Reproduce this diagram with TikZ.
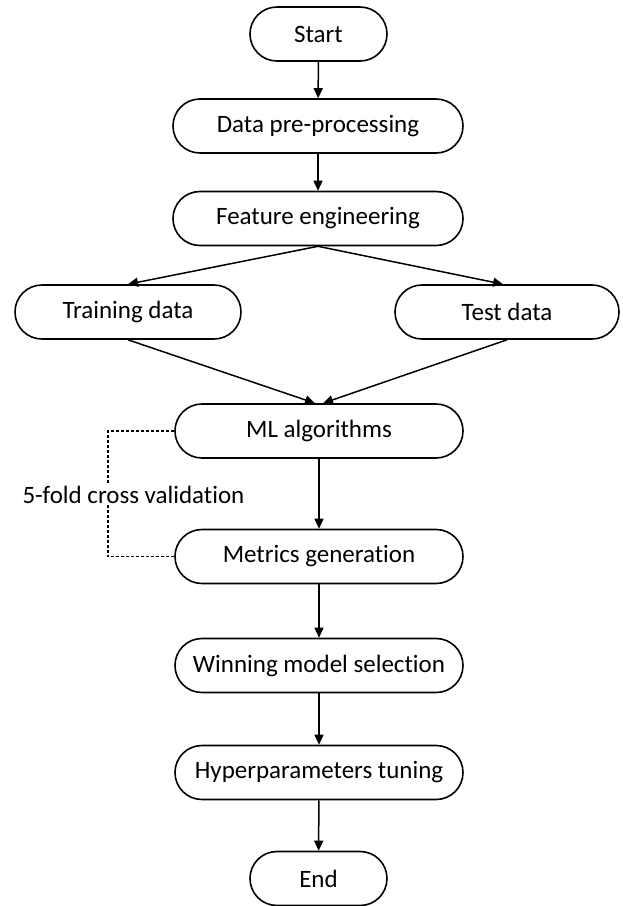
\documentclass[tikz,border=0pt]{standalone}
\usepackage{fontspec}
\setmainfont[Ligatures=NoCommon]{Carlito}
\usetikzlibrary{arrows.meta}
\begin{document}
\begin{tikzpicture}[x=1pt,y=-1pt,
  term/.style={draw, line width=1.6pt, rounded corners=26.9pt, minimum height=54pt, inner sep=0pt, font=\fontsize{25}{30}\selectfont},
  arr/.style={line width=1.5pt, -{Triangle[length=10pt,width=9pt]}},
  dots/.style={line width=1.6pt, dash pattern=on 3pt off 2pt},
  lbl/.style={fill=white, inner sep=1pt, font=\fontsize{25}{30}\selectfont}]
\useasboundingbox (0,0) rectangle (622,906);
\node[term, minimum width=137pt] (start) at (318.5,34) {Start};
\node[term, minimum width=290pt] (pre) at (318,126) {Data pre-processing};
\node[term, minimum width=290pt] (feat) at (318,218.5) {Feature engineering};
\node[term, minimum width=226pt] (train) at (128,312) {Training data};
\node[term, minimum width=224pt] (test) at (507,312) {Test data};
\node[term, minimum width=288pt] (ml) at (319,431) {ML algorithms};
\node[term, minimum width=288pt] (met) at (319,556.5) {Metrics generation};
\node[term, minimum width=288pt] (win) at (319,665.5) {Winning model selection};
\node[term, minimum width=288pt] (hyp) at (319,772.5) {Hyperparameters tuning};
\node[term, minimum width=137pt] (end) at (318.5,878.5) {End};
\draw[arr] (start) -- (pre);
\draw[arr] (pre) -- (feat);
\draw[arr] (feat.south) -- (train.north);
\draw[arr] (feat.south) -- (test.north -| 503,0);
\draw[arr] (train.south) -- ([xshift=-4pt]ml.north);
\draw[arr] (test.south) -- ([xshift=4pt]ml.north);
\draw[arr] (ml) -- (met);
\draw[arr] (met) -- (win);
\draw[arr] (win) -- (hyp);
\draw[arr] (hyp) -- (end);
\coordinate (cvtop) at (108,431);
\draw[dots] (ml.west) -- (cvtop) |- (met.west);
\node[lbl] (cv) at (133.5,495) {5-fold cross validation};
\end{tikzpicture}
\end{document}
